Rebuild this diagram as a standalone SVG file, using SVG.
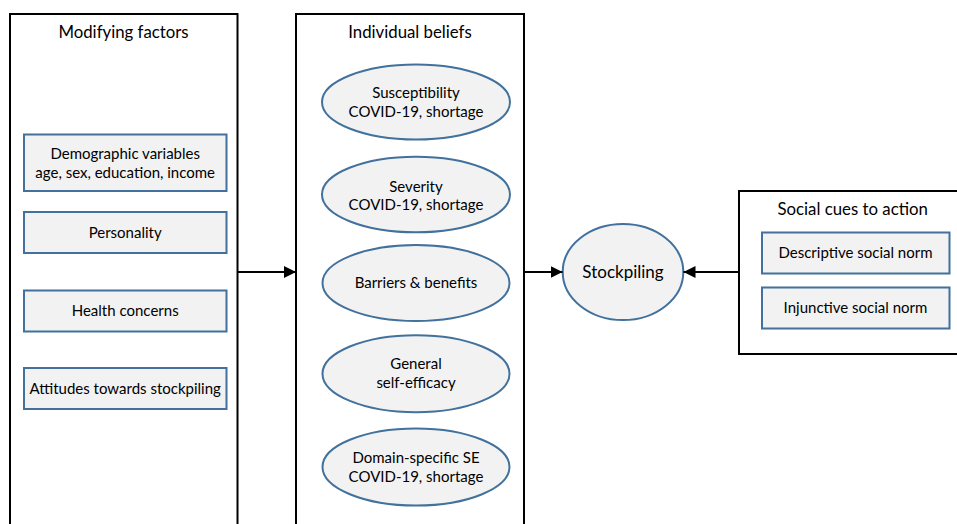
<svg xmlns="http://www.w3.org/2000/svg" width="957" height="524" viewBox="0 0 957 524">
<style>
.frame{fill:#ffffff;stroke:#000000;stroke-width:2}
.box{fill:#f2f2f2;stroke:#41719c;stroke-width:2}
.ell{fill:#f2f2f2;stroke:#41719c;stroke-width:2}
.t{font-family:Lato,"Liberation Sans",sans-serif;fill:#000000;text-anchor:middle}
.title{font-size:16.8px}
.body{font-size:15px}
.big{font-size:17px}
.conn{stroke:#000000;stroke-width:2.2;fill:none;marker-end:url(#ah)}
</style>
<defs>
<marker id="ah" markerUnits="userSpaceOnUse" markerWidth="13" markerHeight="12" refX="12" refY="6" orient="auto">
<path d="M0,0 L12,6 L0,12 Z" fill="#000000"/>
</marker>
</defs>
<rect width="957" height="524" fill="#ffffff"/>
<g id="modifying-factors">
<rect class="frame" x="10" y="14" width="227.5" height="530"/>
<text class="t title" x="123.5" y="38">Modifying factors</text>
</g>
<g id="individual-beliefs">
<rect class="frame" x="296" y="14" width="228" height="530"/>
<text class="t title" x="410" y="38">Individual beliefs</text>
</g>
<g id="social-cues">
<rect class="frame" x="739" y="191" width="240" height="163"/>
<text class="t title" x="852.7" y="214.5">Social cues to action</text>
</g>
<g id="demographic">
<rect class="box" x="24" y="134.5" width="202.5" height="56.5"/>
<text class="t body" x="125.2" y="158.7">Demographic variables</text>
<text class="t body" x="125.2" y="177.7">age, sex, education, income</text>
</g>
<g id="personality">
<rect class="box" x="24" y="212" width="202.5" height="41"/>
<text class="t body" x="125.2" y="237.7">Personality</text>
</g>
<g id="health">
<rect class="box" x="24" y="290.5" width="202.5" height="41"/>
<text class="t body" x="125.2" y="315.7">Health concerns</text>
</g>
<g id="attitudes">
<rect class="box" x="24" y="368" width="202.5" height="41"/>
<text class="t body" x="125.2" y="394">Attitudes towards stockpiling</text>
</g>
<g id="susceptibility">
<ellipse class="ell" cx="416" cy="102" rx="94" ry="37.5"/>
<text class="t body" x="416" y="98.3">Susceptibility</text>
<text class="t body" x="416" y="117">COVID-19, shortage</text>
</g>
<g id="severity">
<ellipse class="ell" cx="416" cy="194.5" rx="94" ry="37.8"/>
<text class="t body" x="416" y="191.7">Severity</text>
<text class="t body" x="416" y="210.3">COVID-19, shortage</text>
</g>
<g id="barriers">
<ellipse class="ell" cx="416" cy="283" rx="93.5" ry="38"/>
<text class="t body" x="416" y="288.3">Barriers &amp; benefits</text>
</g>
<g id="general-se">
<ellipse class="ell" cx="416" cy="373.7" rx="93.5" ry="38.5"/>
<text class="t body" x="416" y="369.3">General</text>
<text class="t body" x="416" y="388.3">self-efficacy</text>
</g>
<g id="domain-se">
<ellipse class="ell" cx="416" cy="467" rx="93.5" ry="38.5"/>
<text class="t body" x="416" y="462.5">Domain-specific SE</text>
<text class="t body" x="416" y="481.7">COVID-19, shortage</text>
</g>
<g id="stockpiling">
<ellipse class="ell" cx="623" cy="272" rx="60.3" ry="48"/>
<text class="t big" x="623" y="278">Stockpiling</text>
</g>
<g id="descriptive">
<rect class="box" x="762" y="232.5" width="187.5" height="41"/>
<text class="t body" x="855.5" y="257.7">Descriptive social norm</text>
</g>
<g id="injunctive">
<rect class="box" x="762" y="287.5" width="187.5" height="41"/>
<text class="t body" x="855.5" y="312.7">Injunctive social norm</text>
</g>
<g id="connectors">
<line class="conn" x1="238" y1="272" x2="296" y2="272"/>
<line class="conn" x1="524" y1="272" x2="562.5" y2="272"/>
<line class="conn" x1="739" y1="272" x2="683.5" y2="272"/>
</g>
</svg>
